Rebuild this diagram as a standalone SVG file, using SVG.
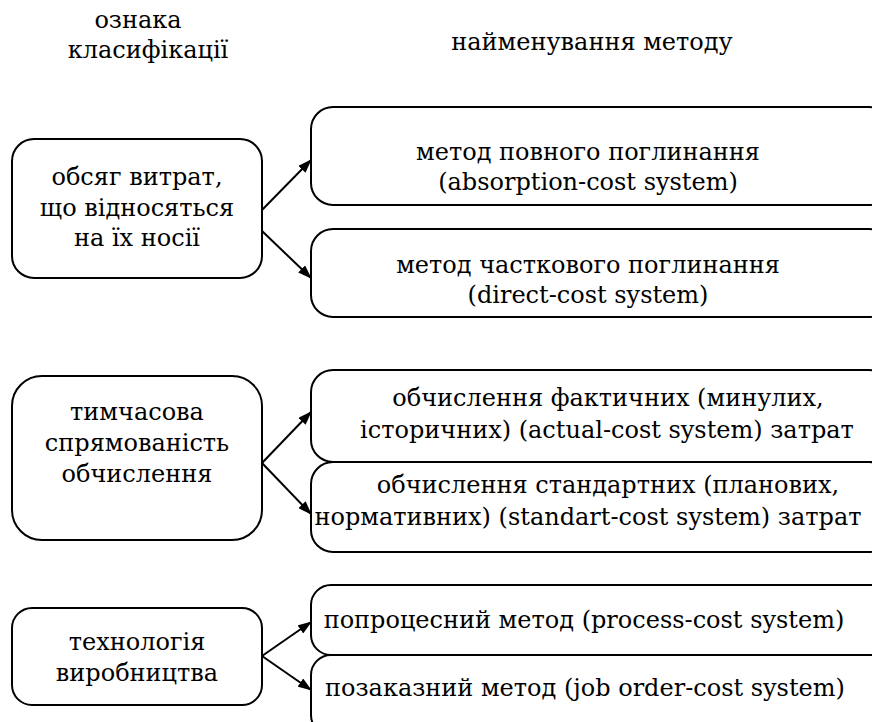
<svg xmlns="http://www.w3.org/2000/svg" width="872" height="722" viewBox="0 0 872 722">
<style>
text{font-family:"DejaVu Serif","Liberation Serif",serif;font-size:24px;fill:#000;text-anchor:middle}
.box{fill:#fff;stroke:#000;stroke-width:2}
.conn line{stroke:#000;stroke-width:2}
</style>
<defs>
<marker id="arr" viewBox="0 0 14 10" refX="13" refY="5" markerWidth="14" markerHeight="10" orient="auto" markerUnits="userSpaceOnUse">
<path d="M0,0 L14,5 L0,10 z" fill="#000"/>
</marker>
</defs>
<rect width="872" height="722" fill="#fff"/>
<g id="headers">
<text x="138" y="28">ознака</text>
<text x="148" y="58">класифікації</text>
<text x="592" y="50">найменування методу</text>
</g>
<g id="n1"><rect class="box" x="12" y="139" width="250" height="139" rx="22"/>
<text x="137" y="185">обсяг витрат,</text><text x="137" y="216">що відносяться</text><text x="137" y="246">на їх носії</text></g>
<g id="n2"><rect class="box" x="311" y="107" width="580" height="98" rx="22"/>
<text x="588" y="160">метод повного поглинання</text><text x="588" y="190">(absorption-cost system)</text></g>
<g id="n3"><rect class="box" x="311" y="229" width="580" height="88" rx="22"/>
<text x="588" y="273">метод часткового поглинання</text><text x="588" y="303">(direct-cost system)</text></g>
<g id="n4"><rect class="box" x="12" y="376" width="250" height="164" rx="30"/>
<text x="137" y="420">тимчасова</text><text x="137" y="451">спрямованість</text><text x="137" y="482">обчислення</text></g>
<g id="n5"><rect class="box" x="311" y="370" width="580" height="92" rx="22"/>
<text x="608" y="406">обчислення фактичних (минулих,</text><text x="607" y="438">історичних) (actual-cost system) затрат</text></g>
<g id="n6"><rect class="box" x="311" y="462" width="580" height="90" rx="22"/>
<text x="608" y="493">обчислення стандартних (планових,</text><text x="588" y="525">нормативних) (standart-cost system) затрат</text></g>
<g id="n7"><rect class="box" x="12" y="608" width="250" height="97" rx="20"/>
<text x="137" y="650">технологія</text><text x="137" y="681">виробництва</text></g>
<g id="n8"><rect class="box" x="311" y="585" width="580" height="70" rx="20"/>
<text x="584" y="628">попроцесний метод (process-cost system)</text></g>
<g id="n9"><rect class="box" x="311" y="655" width="580" height="80" rx="20"/>
<text x="585" y="696">позаказний метод (job order-cost system)</text></g>
<g id="connectors" class="conn">
<line x1="262" y1="210" x2="311" y2="160" marker-end="url(#arr)"/>
<line x1="262" y1="231" x2="311" y2="278" marker-end="url(#arr)"/>
<line x1="262" y1="463" x2="311" y2="412" marker-end="url(#arr)"/>
<line x1="262" y1="463" x2="311" y2="514" marker-end="url(#arr)"/>
<line x1="262" y1="656" x2="311" y2="622" marker-end="url(#arr)"/>
<line x1="262" y1="656" x2="311" y2="690" marker-end="url(#arr)"/>
</g>
</svg>
